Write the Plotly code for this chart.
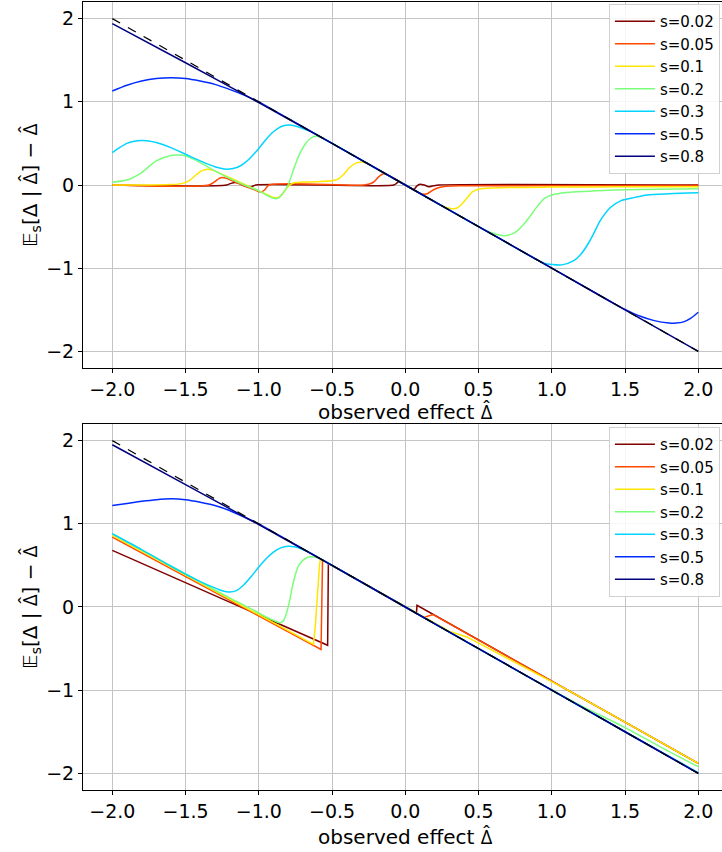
import plotly.graph_objects as go

# ---------------- data ----------------
S_LABELS = ["s=0.02", "s=0.05", "s=0.1", "s=0.2", "s=0.3", "s=0.5", "s=0.8"]
COLORS = ["#800000", "#ff4800", "#ffe600", "#7bff7b", "#00d4ff", "#002bff", "#000080"]

X_TICKS = [-2.0, -1.5, -1.0, -0.5, 0.0, 0.5, 1.0, 1.5, 2.0]
Y_TICKS = [-2, -1, 0, 1, 2]

# reference line (identity shrink)  y = -x
x_ref = [-2.0, 2.0]
y_ref = [2.0, -2.0]

# ---- top panel ----
x_t002 = [-2.0, -1.22, -1.19, -1.16, -1.13, -1.11, -1.08, -1.05, -1.02, -0.08, -0.06, -0.045, -0.03, 0.0,
          0.04, 0.06, 0.08, 0.1, 0.13, 0.16, 0.19, 0.23, 2.0]
y_t002 = [0.0, 0.0, 0.02, 0.03, 0.02, -0.005, -0.02, -0.02, 0.0, 0.0, 0.02, 0.04, 0.03, 0.0,
          -0.04, -0.05, -0.01, 0.01, 0.0, -0.02, -0.01, 0.0, 0.0]

x_t005 = [-2.0, -1.34, -1.3, -1.27, -1.25, -1.22, -1.15, -1.08, -1.02, -0.99, -0.96, -0.93, -0.28, -0.22,
          -0.18, -0.15, -0.12, 0.0, 0.1, 0.13, 0.15, 0.18, 0.22, 0.28, 0.4, 2.0]
y_t005 = [0.0, 0.0, 0.04, 0.08, 0.09, 0.08, 0.025, -0.025, -0.065, -0.085, -0.06, 0.0, 0.0, 0.03,
          0.1, 0.135, 0.12, 0.0, -0.1, -0.11, -0.105, -0.07, -0.035, -0.015, -0.008, -0.005]

x_t01 = [-2.0, -1.6, -1.52, -1.47, -1.43, -1.39, -1.35, -1.3, -1.24, -1.2, -1.1, -1.0, -0.95, -0.9, -0.87,
         -0.84, -0.81, -0.78, -0.75, -0.7, -0.6, -0.5, -0.46, -0.42, -0.38, -0.34, -0.31, -0.27, -0.24, 0.0,
         0.24, 0.28, 0.32, 0.35, 0.38, 0.42, 0.46, 0.5, 0.6, 1.0, 1.5, 2.0]
y_t01 = [0.0, 0.005, 0.02, 0.06, 0.12, 0.17, 0.19, 0.17, 0.12, 0.09, 0.01, -0.07, -0.11, -0.15, -0.15,
         -0.11, -0.04, 0.01, 0.03, 0.035, 0.04, 0.05, 0.07, 0.13, 0.21, 0.26, 0.275, 0.265, 0.24, 0.0,
         -0.24, -0.27, -0.285, -0.28, -0.24, -0.16, -0.08, -0.05, -0.035, -0.025, -0.022, -0.02]

x_t02 = [-2.0, -1.9, -1.8, -1.7, -1.6, -1.55, -1.5, -1.4, -1.3, -1.2, -1.1, -1.0, -0.95, -0.9, -0.87, -0.84,
         -0.8, -0.76, -0.72, -0.68, -0.64, -0.6, -0.55, -0.3, 0.0, 0.25, 0.5, 0.55, 0.6, 0.65, 0.7, 0.75,
         0.8, 0.85, 0.9, 0.95, 1.0, 1.1, 1.3, 1.6, 2.0]
y_t02 = [0.035, 0.06, 0.15, 0.29, 0.355, 0.36, 0.35, 0.27, 0.17, 0.08, 0.0, -0.07, -0.12, -0.16, -0.16, -0.11,
         0.0, 0.2, 0.38, 0.5, 0.57, 0.585, 0.55, 0.3, 0.0, -0.25, -0.5, -0.545, -0.58, -0.605, -0.605, -0.57,
         -0.49, -0.38, -0.26, -0.16, -0.12, -0.09, -0.07, -0.055, -0.046]

x_t03 = [-2.0, -1.95, -1.9, -1.85, -1.8, -1.75, -1.7, -1.6, -1.5, -1.4, -1.3, -1.22, -1.15, -1.1, -1.05, -1.0,
         -0.95, -0.9, -0.85, -0.8, -0.75, -0.7, -0.65, -0.6, -0.3, 0.0, 0.3, 0.6, 0.9, 0.95, 1.0, 1.07, 1.15,
         1.2, 1.25, 1.29, 1.33, 1.4, 1.47, 1.55, 1.65, 1.8, 2.0]
y_t03 = [0.39, 0.45, 0.50, 0.525, 0.535, 0.53, 0.51, 0.45, 0.37, 0.29, 0.22, 0.19, 0.21, 0.26, 0.34, 0.44,
         0.55, 0.64, 0.70, 0.72, 0.71, 0.68, 0.645, 0.6, 0.3, 0.0, -0.3, -0.6, -0.9, -0.94, -0.955, -0.96, -0.91,
         -0.83, -0.70, -0.57, -0.43, -0.27, -0.19, -0.155, -0.12, -0.105, -0.094]

x_t05 = [-2.0, -1.9, -1.8, -1.7, -1.6, -1.5, -1.4, -1.3, -1.2, -1.1, -1.0, -0.9, -0.5, 0.0, 0.5, 1.0, 1.4,
         1.5, 1.6, 1.7, 1.8, 1.85, 1.9, 1.95, 2.0]
y_t05 = [1.13, 1.20, 1.25, 1.28, 1.29, 1.28, 1.25, 1.21, 1.15, 1.08, 1.0, 0.9, 0.5, 0.0, -0.5, -1.0, -1.4,
         -1.495, -1.575, -1.63, -1.658, -1.66, -1.645, -1.6, -1.53]

x_t08 = [-2.0, -1.5, -1.0, -0.5, 0.0, 0.5, 1.0, 1.5, 2.0]
y_t08 = [1.94, 1.47, 0.99, 0.5, 0.0, -0.5, -1.0, -1.5, -2.0]

# ---- bottom panel ----
x_b002 = [-2.0, -0.53, -0.525, 0.0, 0.076, 0.08, 0.9, 1.1, 1.5, 2.0]
y_b002 = [0.68, -0.46, 0.525, 0.0, -0.076, 0.02, -0.8, -0.99, -1.385, -1.88]

x_b005 = [-2.0, -0.575, -0.565, 0.0, 0.125, 0.19, 0.9, 1.1, 1.5, 2.0]
y_b005 = [0.84, -0.51, 0.565, 0.0, -0.125, -0.09, -0.8, -0.99, -1.385, -1.88]

x_b01 = [-2.0, -0.627, -0.615, -0.605, -0.595, -0.585, -0.578, 0.0, 0.25, 0.3, 0.42, 0.65, 0.9, 1.1, 1.5, 2.0]
y_b01 = [0.86, -0.45, -0.25, 0.05, 0.35, 0.52, 0.578, 0.0, -0.25, -0.29, -0.36, -0.57, -0.8, -0.99, -1.385, -1.88]

x_b02 = [-2.0, -1.7, -1.4, -1.2, -1.1, -1.0, -0.95, -0.9, -0.85, -0.83, -0.81, -0.79, -0.77, -0.75, -0.73,
         -0.7, -0.66, -0.62, -0.58, -0.55, -0.3, 0.0, 0.5, 0.9, 1.0, 1.2, 1.5, 1.75, 2.0]
y_b02 = [0.88, 0.59, 0.3, 0.11, 0.02, -0.07, -0.12, -0.16, -0.19, -0.16, -0.07, 0.07, 0.25, 0.39, 0.49,
         0.56, 0.6, 0.6, 0.58, 0.55, 0.3, 0.0, -0.5, -0.9, -0.995, -1.185, -1.45, -1.69, -1.92]

x_b03 = [-2.0, -1.8, -1.6, -1.5, -1.4, -1.3, -1.25, -1.2, -1.15, -1.1, -1.05, -1.0, -0.95, -0.9, -0.85, -0.8,
         -0.75, -0.7, -0.65, -0.6, -0.3, 0.0, 0.5, 1.0, 1.5, 2.0]
y_b03 = [0.88, 0.69, 0.49, 0.395, 0.305, 0.23, 0.195, 0.18, 0.2, 0.27, 0.37, 0.48, 0.58, 0.66, 0.71, 0.73,
         0.72, 0.69, 0.65, 0.6, 0.3, 0.0, -0.5, -1.0, -1.5, -1.99]

x_b05 = [-2.0, -1.9, -1.8, -1.7, -1.6, -1.5, -1.4, -1.3, -1.2, -1.1, -1.0, -0.9, -0.5, 0.0, 0.5, 1.0, 1.5, 2.0]
y_b05 = [1.22, 1.245, 1.27, 1.29, 1.30, 1.29, 1.26, 1.22, 1.16, 1.08, 1.0, 0.9, 0.5, 0.0, -0.5, -1.0, -1.5, -2.0]

x_b08 = [-2.0, -1.5, -1.0, -0.5, 0.0, 0.5, 1.0, 1.5, 2.0]
y_b08 = [1.95, 1.47, 0.99, 0.5, 0.0, -0.5, -1.0, -1.5, -2.0]

TOP = [(x_t002, y_t002), (x_t005, y_t005), (x_t01, y_t01), (x_t02, y_t02),
       (x_t03, y_t03), (x_t05, y_t05), (x_t08, y_t08)]
BOTTOM = [(x_b002, y_b002), (x_b005, y_b005), (x_b01, y_b01), (x_b02, y_b02),
          (x_b03, y_b03), (x_b05, y_b05), (x_b08, y_b08)]
BOTTOM_SMOOTH = [False, False, False, True, True, True, True]

for xs, ys in TOP + BOTTOM:
    assert len(xs) == len(ys)

# ---------------- figure ----------------
fig = go.Figure()

for i, (xs, ys) in enumerate(TOP):
    fig.add_trace(go.Scatter(
        x=xs, y=ys, mode="lines", name=S_LABELS[i],
        line=dict(color=COLORS[i], width=1.5, shape="spline", smoothing=0.8),
        xaxis="x", yaxis="y", legend="legend"))
fig.add_trace(go.Scatter(x=x_ref, y=y_ref, mode="lines", showlegend=False,
                         line=dict(color="black", width=1.2, dash="dash"),
                         xaxis="x", yaxis="y"))

for i, (xs, ys) in enumerate(BOTTOM):
    shp = dict(shape="spline", smoothing=0.8) if BOTTOM_SMOOTH[i] else dict(shape="linear")
    fig.add_trace(go.Scatter(
        x=xs, y=ys, mode="lines", name=S_LABELS[i],
        line=dict(color=COLORS[i], width=1.5, **shp),
        xaxis="x2", yaxis="y2", legend="legend2"))
fig.add_trace(go.Scatter(x=x_ref, y=y_ref, mode="lines", showlegend=False,
                         line=dict(color="black", width=1.2, dash="dash"),
                         xaxis="x2", yaxis="y2"))

GRID = "#c4c4c4"
FONT = "DejaVu Sans"
# Open Sans positions the combining circumflex correctly over the capital Delta
DHAT = '<span style="font-family:Open Sans">Δ̂</span>'
XTITLE = "observed effect " + DHAT
YTITLE = "𝔼<sub>s</sub>[Δ | " + DHAT + "] − " + DHAT


def xax(anchor):
    return dict(anchor=anchor, domain=[0, 1], range=[-2.2, 2.162], tickvals=X_TICKS, tickformat=".1f",
                showgrid=True, gridcolor=GRID, gridwidth=1, zeroline=False, automargin=False,
                showline=True, linecolor="black", linewidth=1, mirror=True,
                ticks="outside", ticklen=4, tickcolor="black", tickfont=dict(size=19))


def yax(anchor, domain):
    return dict(anchor=anchor, domain=domain, range=[-2.2, 2.2], tickvals=Y_TICKS,
                showgrid=True, gridcolor=GRID, gridwidth=1, zeroline=False, automargin=False,
                showline=True, linecolor="black", linewidth=1, mirror=False,
                ticks="outside", ticklen=4, tickcolor="black", tickfont=dict(size=19))


legend_style = dict(xanchor="left", yanchor="top", x=0.823, bgcolor="rgba(255,255,255,0.85)",
                    bordercolor="#d0d0d0", borderwidth=1, font=dict(size=15), itemwidth=40,
                    tracegroupgap=0)

annotations = []
for xr, yr, ytit in [("x", "y", 0.4797), ("x2", "y2", -0.0596)]:
    annotations.append(dict(text=XTITLE, xref=xr, x=0.0, yref="paper", y=ytit,
                            xanchor="center", yanchor="middle", showarrow=False,
                            font=dict(size=20)))
    annotations.append(dict(text=YTITLE, xref="paper", x=-0.083, yref=yr, y=0.0,
                            xanchor="center", yanchor="middle", showarrow=False, textangle=-90,
                            font=dict(size=20)))

fig.update_layout(
    width=722, height=852,
    margin=dict(l=83, r=0, t=2, b=62, autoexpand=False),
    paper_bgcolor="white", plot_bgcolor="white",
    font=dict(family=FONT, size=15, color="black"),
    xaxis=xax("y"), yaxis=yax("x", [0.5355, 1.0]),
    xaxis2=xax("y2"), yaxis2=yax("x2", [0.0, 0.4645]),
    legend=dict(y=0.9975, **legend_style),
    legend2=dict(y=0.4607, **legend_style),
    annotations=annotations,
    showlegend=True,
)

fig.write_html("out.html", config={"displayModeBar": False},
               post_script="document.body.style.margin='0px';")
